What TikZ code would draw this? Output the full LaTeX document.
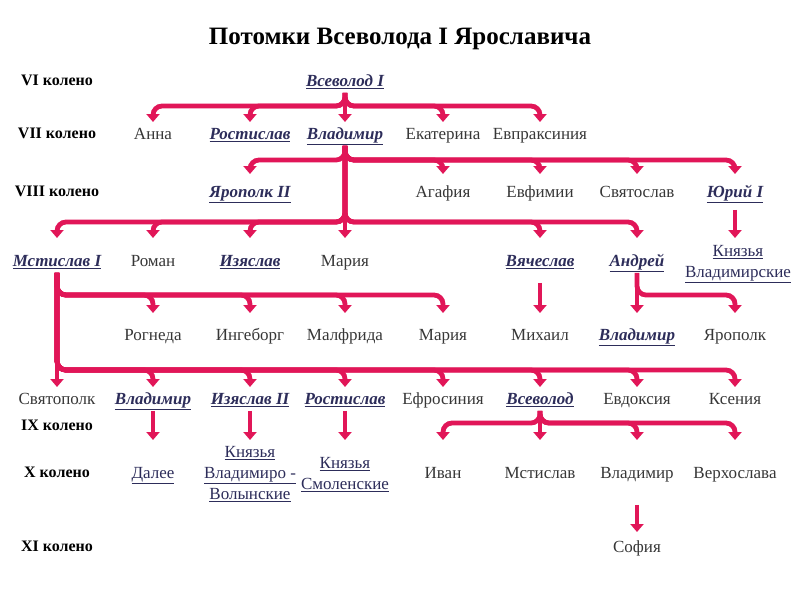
\documentclass[tikz,border=0pt]{standalone}
\usepackage{fontspec}
\setmainfont{Liberation Serif}
\usetikzlibrary{arrows.meta}
\definecolor{conncol}{RGB}{225,22,88}
\definecolor{namecol}{RGB}{55,55,55}
\definecolor{linkcol}{RGB}{45,45,90}
\newcommand\fork[4]{\draw[conn] (#1.south) -- (#1.south |- #2) -- (#3 |- #2) -- (#3 |- #4);}
\newcommand\drop[3]{\draw[conn] (#1.south) -- (#2 |- #3);}
\tikzset{
  conn/.style={draw=conncol, line width=4.8pt, rounded corners=9pt,
    -{Triangle[length=8pt,width=13pt]}},
  base/.style={font=\fontsize{17}{21}\selectfont, text=namecol, inner sep=2pt, align=center},
  nm/.style={base, text height=12pt, text depth=4.5pt, yshift=-2.5pt},
  lk/.style={nm, font=\fontsize{17}{21}\selectfont\bfseries\itshape, text=linkcol},
  ml/.style={base, text=linkcol},
  gen/.style={font=\fontsize{16}{18}\selectfont\bfseries, text=black, inner sep=1pt},
  ttl/.style={font=\fontsize{25}{28}\selectfont\bfseries, text=black}
}
\begin{document}
\begin{tikzpicture}[x=1pt,y=-1pt]
\path[use as bounding box, fill=white] (0,0) rectangle (800,600);
\node[ttl] (title) at (400,39) {Потомки Всеволода I Ярославича};
% generation labels
\node[gen] (g6) at (57,80) {VI колено};
\node[gen] (g7) at (57,133) {VII колено};
\node[gen] (g8) at (57,191) {VIII колено};
\node[gen] (g9) at (57,425) {IX колено};
\node[gen] (g10) at (57,472) {X колено};
\node[gen] (g11) at (57,546) {XI колено};
% bars and tips
\coordinate (b1) at (0,106);
\coordinate (b2) at (0,160);
\coordinate (b3) at (0,222);
\coordinate (b4) at (0,295);
\coordinate (b5) at (0,370);
\coordinate (b6) at (0,423);
\coordinate (t7) at (0,122);
\coordinate (t8) at (0,174);
\coordinate (t9) at (0,238);
\coordinate (t10) at (0,313);
\coordinate (t11) at (0,387);
\coordinate (t12) at (0,440);
\coordinate (t13) at (0,532);
% VI
\node[lk] (vsev) at (345,80) {\underline{Всеволод I}};
% VII
\node[nm] (anna) at (153,133) {Анна};
\node[lk] (rost) at (250,133) {\underline{Ростислав}};
\node[lk] (vlad) at (345,133) {\underline{Владимир}};
\node[nm] (ekat) at (443,133) {Екатерина};
\node[nm] (evpr) at (540,133) {Евпраксиния};
% VIII
\node[lk] (yaro) at (250,191) {\underline{Ярополк II}};
\node[nm] (agaf) at (443,191) {Агафия};
\node[nm] (evfi) at (540,191) {Евфимии};
\node[nm] (svya) at (637,191) {Святослав};
\node[lk] (yuri) at (735,191) {\underline{Юрий I}};
% row 260
\node[lk] (msti) at (57,260) {\underline{Мстислав I}};
\node[nm] (roma) at (153,260) {Роман};
\node[lk] (izya) at (250,260) {\underline{Изяслав}};
\node[nm] (mar1) at (345,260) {Мария};
\node[lk] (vyac) at (540,260) {\underline{Вячеслав}};
\node[lk] (andr) at (637,260) {\underline{Андрей}};
\node[ml] (knv) at (738,264) {\underline{Князья}\\\underline{Владимирские}};
% row 334
\node[nm] (rogn) at (153,334) {Рогнеда};
\node[nm] (inge) at (250,334) {Ингеборг};
\node[nm] (malf) at (345,334) {Малфрида};
\node[nm] (mar2) at (443,334) {Мария};
\node[nm] (mikh) at (540,334) {Михаил};
\node[lk] (vlad2) at (637,334) {\underline{Владимир}};
\node[nm] (yaro2) at (735,334) {Ярополк};
% row 398
\node[nm] (svpk) at (57,398) {Святополк};
\node[lk] (vlad3) at (153,398) {\underline{Владимир}};
\node[lk] (izya2) at (250,398) {\underline{Изяслав II}};
\node[lk] (rost2) at (345,398) {\underline{Ростислав}};
\node[nm] (efro) at (443,398) {Ефросиния};
\node[lk] (vsev2) at (540,398) {\underline{Всеволод}};
\node[nm] (evdo) at (637,398) {Евдоксия};
\node[nm] (ksen) at (735,398) {Ксения};
% row 472
\node[ml, text height=12pt, text depth=4.5pt, yshift=-2.5pt] (dale) at (153,472) {\underline{Далее}};
\node[ml] (knvv) at (250,474) {\underline{Князья}\\\underline{Владимиро -}\\\underline{Волынские}};
\node[ml] (knsm) at (345,475) {\underline{Князья}\\\underline{Смоленские}};
\node[nm] (ivan) at (443,472) {Иван};
\node[nm] (msti2) at (540,472) {Мстислав};
\node[nm] (vlad4) at (637,472) {Владимир};
\node[nm] (verh) at (735,472) {Верхослава};
% row 546
\node[nm] (sofi) at (637,546) {София};
% connectors VI -> VII
\fork{vsev}{b1}{anna}{t7}
\fork{vsev}{b1}{rost}{t7}
\drop{vsev}{vlad}{t7}
\fork{vsev}{b1}{ekat}{t7}
\fork{vsev}{b1}{evpr}{t7}
% Vladimir -> VIII
\fork{vlad}{b2}{yaro}{t8}
\fork{vlad}{b2}{agaf}{t8}
\fork{vlad}{b2}{evfi}{t8}
\fork{vlad}{b2}{svya}{t8}
\fork{vlad}{b2}{yuri}{t8}
% Vladimir -> row 260
\fork{vlad}{b3}{msti}{t9}
\fork{vlad}{b3}{roma}{t9}
\fork{vlad}{b3}{izya}{t9}
\drop{vlad}{mar1}{t9}
\fork{vlad}{b3}{vyac}{t9}
\fork{vlad}{b3}{andr}{t9}
% Yuri -> Knyazya
\draw[conn, shorten <=6pt] (yuri.south) -- (yuri |- t9);
% Mstislav -> row 334
\fork{msti}{b4}{rogn}{t10}
\fork{msti}{b4}{inge}{t10}
\fork{msti}{b4}{malf}{t10}
\fork{msti}{b4}{mar2}{t10}
% Mstislav -> row 398
\drop{msti}{svpk}{t11}
\fork{msti}{b5}{vlad3}{t11}
\fork{msti}{b5}{izya2}{t11}
\fork{msti}{b5}{rost2}{t11}
\fork{msti}{b5}{efro}{t11}
\fork{msti}{b5}{vsev2}{t11}
\fork{msti}{b5}{evdo}{t11}
\fork{msti}{b5}{ksen}{t11}
% Vyacheslav, Andrey
\draw[conn, shorten <=10pt] (vyac.south) -- (mikh |- t10);
\drop{andr}{vlad2}{t10}
\fork{andr}{b4}{yaro2}{t10}
% row 398 -> row 472
\drop{vlad3}{dale}{t12}
\drop{izya2}{knvv}{t12}
\drop{rost2}{knsm}{t12}
\fork{vsev2}{b6}{ivan}{t12}
\drop{vsev2}{msti2}{t12}
\fork{vsev2}{b6}{vlad4}{t12}
\fork{vsev2}{b6}{verh}{t12}
% Vladimir -> Sofia
\draw[conn, shorten <=20pt] (vlad4.south) -- (sofi |- t13);
\end{tikzpicture}
\end{document}
